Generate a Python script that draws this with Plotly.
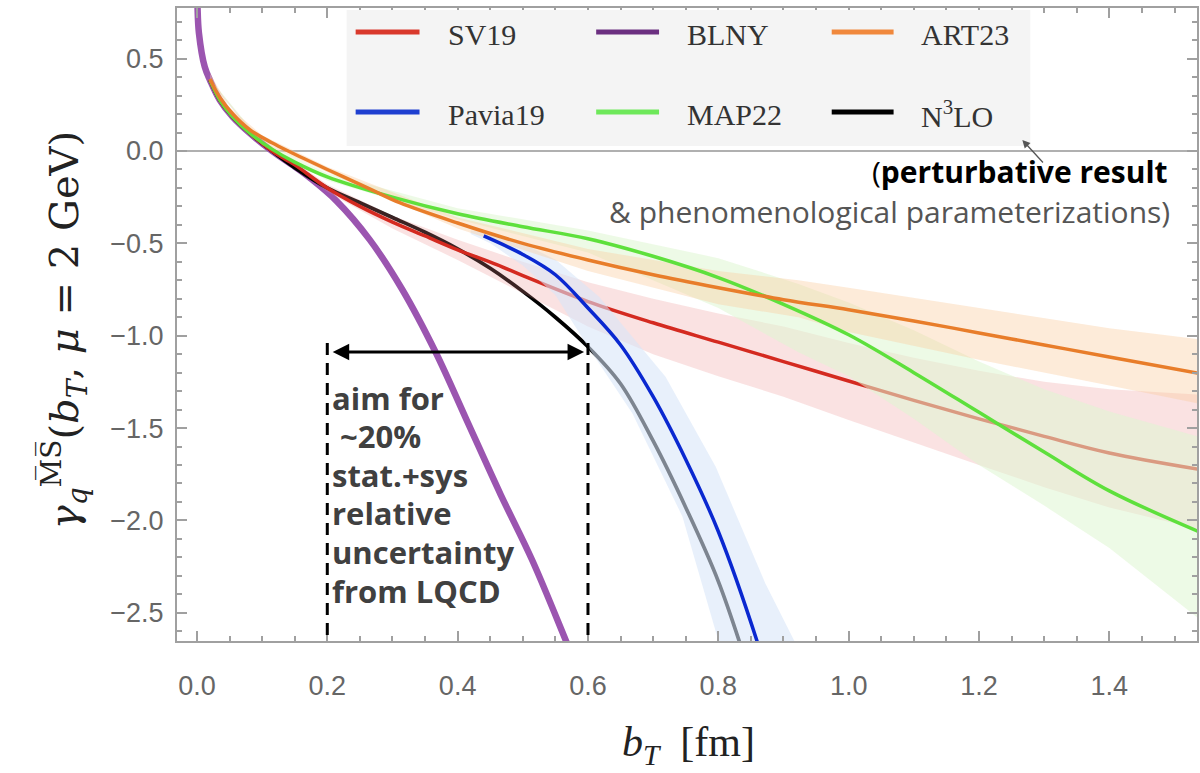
import plotly.graph_objects as go

# ---------------- data ----------------
blny_b = [0.0007, 0.001, 0.003, 0.012, 0.02, 0.035, 0.055, 0.081, 0.115, 0.15, 0.173, 0.214, 0.265, 0.315, 0.367, 0.413, 0.466, 0.515, 0.566, 0.58]
blny_y = [0.84, 0.77, 0.64, 0.455, 0.384, 0.276, 0.184, 0.097, 0.0, -0.085, -0.145, -0.27, -0.48, -0.75, -1.095, -1.45, -1.86, -2.22, -2.65, -2.77]

n3lo_b = [0.02, 0.035, 0.055, 0.081, 0.115, 0.15, 0.2, 0.25, 0.3, 0.35, 0.4, 0.45, 0.5, 0.55, 0.6, 0.65, 0.7, 0.75, 0.8, 0.85]
n3lo_y = [0.384, 0.276, 0.184, 0.097, 0.0, -0.09, -0.2, -0.28, -0.36, -0.44, -0.53, -0.635, -0.76, -0.9, -1.06, -1.26, -1.57, -1.93, -2.33, -2.85]

sv19_b = [0.02, 0.035, 0.055, 0.081, 0.115, 0.15, 0.2, 0.25, 0.3, 0.35, 0.4, 0.46, 0.5, 0.6, 0.7, 0.8, 0.9, 1.0, 1.1, 1.2, 1.3, 1.4, 1.54]
sv19_y = [0.384, 0.276, 0.184, 0.097, 0.0, -0.075, -0.2, -0.3, -0.385, -0.46, -0.535, -0.615, -0.675, -0.815, -0.93, -1.035, -1.14, -1.245, -1.35, -1.45, -1.545, -1.635, -1.725]
sv19_bb = [0.02, 0.1, 0.15, 0.2, 0.3, 0.4, 0.5, 0.6, 0.7, 0.8, 0.9, 1.0, 1.1, 1.2, 1.3, 1.4, 1.54]
sv19_hi = [0.39, 0.04, -0.06, -0.18, -0.35, -0.48, -0.60, -0.71, -0.80, -0.88, -0.95, -1.04, -1.12, -1.19, -1.25, -1.29, -1.32]
sv19_lo = [0.378, 0.03, -0.08, -0.22, -0.42, -0.59, -0.77, -0.95, -1.10, -1.22, -1.33, -1.456, -1.58, -1.70, -1.82, -1.93, -2.05]

pavia_b = [0.44, 0.5, 0.55, 0.6, 0.65, 0.7, 0.75, 0.8, 0.86, 0.88]
pavia_y = [-0.46, -0.56, -0.67, -0.85, -1.05, -1.33, -1.67, -2.06, -2.66, -2.9]
pavia_hi_b = [0.42, 0.45, 0.5, 0.551, 0.617, 0.719, 0.796, 0.872, 0.918, 0.94]
pavia_hi = [-0.43, -0.44, -0.50, -0.59, -0.789, -1.222, -1.709, -2.34, -2.662, -2.85]
pavia_lo_b = [0.42, 0.45, 0.5, 0.55, 0.6, 0.668, 0.745, 0.801, 0.82]
pavia_lo = [-0.45, -0.50, -0.62, -0.78, -1.06, -1.42, -1.98, -2.662, -2.9]

map22_b = [0.02, 0.035, 0.055, 0.081, 0.115, 0.15, 0.2, 0.3, 0.4, 0.5, 0.6, 0.7, 0.8, 0.9, 1.0, 1.1, 1.2, 1.3, 1.4, 1.54]
map22_y = [0.384, 0.276, 0.184, 0.097, 0.01, -0.06, -0.14, -0.25, -0.34, -0.41, -0.475, -0.57, -0.685, -0.83, -0.995, -1.2, -1.415, -1.63, -1.84, -2.065]
map22_bb = [0.02, 0.1, 0.2, 0.4, 0.6, 0.8, 0.923, 1.0, 1.1, 1.2, 1.3, 1.4, 1.54]
map22_hi = [0.39, 0.05, -0.12, -0.31, -0.43, -0.58, -0.72, -0.82, -0.97, -1.14, -1.29, -1.41, -1.55]
map22_lo = [0.378, 0.035, -0.16, -0.37, -0.55, -0.85, -1.09, -1.22, -1.45, -1.70, -1.92, -2.15, -2.54]

art23_b = [0.02, 0.035, 0.055, 0.081, 0.115, 0.14, 0.2, 0.265, 0.311, 0.4, 0.5, 0.6, 0.7, 0.8, 0.9, 1.0, 1.1, 1.2, 1.3, 1.4, 1.54]
art23_y = [0.39, 0.29, 0.2, 0.115, 0.045, 0.0, -0.1, -0.205, -0.28, -0.39, -0.5, -0.59, -0.67, -0.74, -0.805, -0.86, -0.92, -0.985, -1.05, -1.115, -1.205]
art23_bb = [0.02, 0.05, 0.1, 0.2, 0.4, 0.6, 0.8, 0.923, 1.0, 1.2, 1.4, 1.54]
art23_hi = [0.42, 0.235, 0.085, -0.085, -0.36, -0.53, -0.65, -0.70, -0.74, -0.85, -0.96, -1.02]
art23_lo = [0.37, 0.195, 0.045, -0.115, -0.42, -0.65, -0.83, -0.90, -0.98, -1.13, -1.27, -1.37]

legend_names = ["SV19", "BLNY", "ART23", "Pavia19", "MAP22", "N<sup>3</sup>LO"]
legend_colors = ["#d9392c", "#6b2f80", "#f0883c", "#1e3fd0", "#6ee85a", "#000000"]

x_ticks = [0.0, 0.2, 0.4, 0.6, 0.8, 1.0, 1.2, 1.4]
y_ticks = [0.5, 0.0, -0.5, -1.0, -1.5, -2.0, -2.5]

aim_lines = ["aim for", " ~20%", "stat.+sys", "relative", "uncertainty", "from LQCD"]
aim_range = [0.2, 0.6]
aim_arrow_y = -1.088
aim_dash_top = -1.04

# ---------------- geometry helpers ----------------
W, H = 1200, 773
ML, MR, MT, MB = 177, 1, 8, 132
PW, PH = W - ML - MR, H - MT - MB
XR = [-0.0306, -0.0306 + PW / 653.0]
YR = [-(H - MB - 151) / 184.7, (151 - MT) / 184.7]


def px(x):
    return (x - ML) / PW


def py(y):
    return (H - MB - y) / PH


def band(bx_hi, y_hi, bx_lo, y_lo, color):
    return go.Scatter(x=list(bx_hi) + list(bx_lo)[::-1], y=list(y_hi) + list(y_lo)[::-1],
                      fill="toself", fillcolor=color, line=dict(width=0), mode="lines",
                      hoverinfo="skip", showlegend=False)


def line(bx, by, color, width):
    return go.Scatter(x=bx, y=by, mode="lines", line=dict(color=color, width=width, shape="spline", smoothing=1.0),
                      showlegend=False)


fig = go.Figure()
fig.add_trace(line(blny_b, blny_y, "#9b55b0", 6.5))
fig.add_trace(line(n3lo_b, n3lo_y, "#000000", 3.7))
fig.add_trace(band(sv19_bb, sv19_hi, sv19_bb, sv19_lo, "rgba(235,140,140,0.25)"))
fig.add_trace(line(sv19_b, sv19_y, "#d42a20", 3.5))
fig.add_trace(band(pavia_hi_b, pavia_hi, pavia_lo_b, pavia_lo, "rgba(215,230,248,0.58)"))
fig.add_trace(band(map22_bb, map22_hi, map22_bb, map22_lo, "rgba(222,246,210,0.55)"))
fig.add_trace(band(art23_bb, art23_hi, art23_bb, art23_lo, "rgba(250,205,160,0.4)"))
fig.add_trace(line(pavia_b, pavia_y, "#0a28d0", 3.5))
fig.add_trace(line(map22_b, map22_y, "#5ee03c", 3.5))
fig.add_trace(line(art23_b, art23_y, "#e87d2a", 3.5))

shapes = []
annotations = []

# legend box
shapes.append(dict(type="rect", xref="paper", yref="paper", x0=px(347), x1=px(1032), y0=py(146), y1=py(10),
                   fillcolor="#f4f4f4", line=dict(width=0), layer="above"))
leg_line_x = [(356, 420), (597, 660), (833, 895)]
leg_text_x = [447, 686, 920]
leg_row_y = [32, 112]
for i, (name, col) in enumerate(zip(legend_names, legend_colors)):
    r, c = divmod(i, 3)
    shapes.append(dict(type="line", xref="paper", yref="paper", x0=px(leg_line_x[c][0]), x1=px(leg_line_x[c][1]),
                       y0=py(leg_row_y[r]), y1=py(leg_row_y[r]), line=dict(color=col, width=5), layer="above"))
    annotations.append(dict(xref="paper", yref="paper", x=px(leg_text_x[c]), y=py(leg_row_y[r] + 2), text=name,
                            showarrow=False, xanchor="left", yanchor="middle",
                            font=dict(family="Liberation Serif", size=30, color="#333333")))

# dashed guides and double arrow
for xv in aim_range:
    shapes.append(dict(type="line", xref="x", yref="y", x0=xv, x1=xv, y0=aim_dash_top, y1=YR[0],
                       line=dict(color="black", width=3, dash="12px,8px"), layer="above"))
annotations.append(dict(xref="x", yref="y", axref="x", ayref="y", x=aim_range[1] - 0.006, y=aim_arrow_y,
                        ax=aim_range[0] + 0.006, ay=aim_arrow_y, text="", showarrow=True,
                        arrowhead=2, startarrowhead=2, arrowside="end+start", arrowsize=1.1,
                        startarrowsize=1.1, arrowwidth=3, arrowcolor="black"))

aim_y_px = [398, 436, 475, 513, 552, 591]
for t, yy in zip(aim_lines, aim_y_px):
    annotations.append(dict(xref="paper", yref="paper", x=px(330), y=py(yy), text="<b>" + t + "</b>",
                            showarrow=False, xanchor="left", yanchor="middle",
                            font=dict(family="Open Sans", size=31, color="#404040")))

annotations.append(dict(xref="paper", yref="paper", x=px(1172), y=py(172),
                        text="(<b>perturbative result</b>", showarrow=False, xanchor="right", yanchor="middle",
                        font=dict(family="Open Sans", size=30, color="#000000")))
annotations.append(dict(xref="paper", yref="paper", x=px(1174), y=py(211),
                        text="& phenomenological parameterizations)", showarrow=False, xanchor="right",
                        yanchor="middle", font=dict(family="Open Sans", size=30, color="#555555")))
annotations.append(dict(xref="paper", yref="paper", x=px(1024), y=py(140), text="", showarrow=True,
                        ax=22, ay=24, arrowhead=2, arrowsize=1.2, arrowwidth=1.3, arrowcolor="#555555"))

# axis titles
annotations.append(dict(xref="paper", yref="paper", x=px(64), y=py(330), textangle=-90, showarrow=False,
                        xanchor="center", yanchor="middle",
                        text="<i>γ</i><sub><i>q</i></sub><sup>M\u0305S\u0305</sup>(<i>b</i><sub><i>T</i></sub>, <i>μ</i> = 2 GeV)",
                        font=dict(family="DejaVu Serif", size=40, color="#222222")))
annotations.append(dict(xref="paper", yref="paper", x=px(690), y=py(745), showarrow=False,
                        xanchor="center", yanchor="middle",
                        text="<i>b</i><sub><i>T</i></sub>  [fm]",
                        font=dict(family="Liberation Serif", size=42, color="#222222")))

axis_common = dict(showgrid=False, showline=True, linecolor="#a0a0a0", linewidth=2, mirror="ticks",
                   ticks="inside", tickcolor="#a0a0a0", tickwidth=1.5, ticklen=10)

fig.update_layout(
    width=W, height=H, margin=dict(l=ML, r=MR, t=MT, b=MB),
    paper_bgcolor="white", plot_bgcolor="white", showlegend=False,
    shapes=shapes, annotations=annotations,
    xaxis=dict(range=XR, tickvals=x_ticks, ticktext=["%.1f" % v for v in x_ticks], zeroline=False,
               tickfont=dict(family="Liberation Sans Narrow, Liberation Sans", size=27, color="#666666"),
               ticklabelstandoff=20,
               minor=dict(dtick=0.05, tick0=0, ticks="inside", ticklen=5, tickcolor="#a0a0a0"), **axis_common),
    yaxis=dict(range=YR, tickvals=y_ticks, ticktext=["%.1f" % v if v >= 0 else "\u2212%.1f" % -v for v in y_ticks],
               zeroline=True, zerolinecolor="#b0b0b0", zerolinewidth=1.5,
               tickfont=dict(family="Liberation Sans", size=27, color="#666666"),
               ticklabelstandoff=6,
               minor=dict(dtick=0.1, tick0=0, ticks="inside", ticklen=5, tickcolor="#a0a0a0"), **axis_common),
)

fig.write_html("out.html")
